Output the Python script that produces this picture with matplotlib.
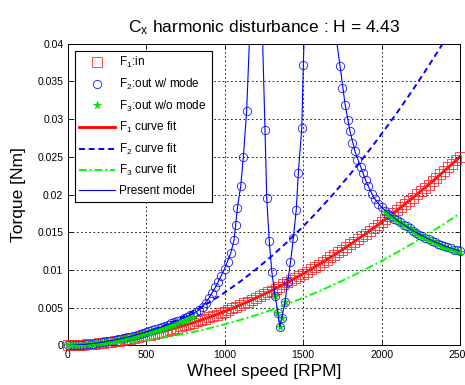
import matplotlib
matplotlib.use('Agg')
import matplotlib.pyplot as plt

plt.rcParams['font.family'] = ['Liberation Sans', 'DejaVu Sans']
plt.rcParams['mathtext.fontset'] = 'custom'
plt.rcParams['mathtext.rm'] = 'Liberation Sans'
plt.rcParams['mathtext.it'] = 'Liberation Sans:italic'

# F1 : in  (красные квадраты), шаг 25 об/мин
f1_rpm = list(range(0, 2501, 25))
f1_in = [0.0, 0.00002, 0.00005, 0.00008, 0.00012, 0.00016, 0.00021, 0.00026, 0.00031, 0.00037,
         0.00044, 0.00051, 0.00058, 0.00066, 0.00074, 0.00083, 0.00092, 0.00102, 0.00112, 0.00122,
         0.00133, 0.00145, 0.00157, 0.00169, 0.00182, 0.00195, 0.00209, 0.00223, 0.00238, 0.00253,
         0.00269, 0.00285, 0.00301, 0.00318, 0.00336, 0.00354, 0.00372, 0.00391, 0.00410, 0.00430,
         0.00450, 0.00471, 0.00492, 0.00513, 0.00535, 0.00558, 0.00581, 0.00604, 0.00628, 0.00652,
         0.00677, 0.00702, 0.00728, 0.00754, 0.00781, 0.00808, 0.00835, 0.00863, 0.00892, 0.00921,
         0.00950, 0.00980, 0.01010, 0.01041, 0.01072, 0.01104, 0.01136, 0.01168, 0.01201, 0.01235,
         0.01269, 0.01303, 0.01338, 0.01373, 0.01409, 0.01445, 0.01482, 0.01519, 0.01557, 0.01595,
         0.01633, 0.01672, 0.01712, 0.01752, 0.01792, 0.01833, 0.01874, 0.01916, 0.01958, 0.02001,
         0.02044, 0.02087, 0.02131, 0.02176, 0.02221, 0.02266, 0.02312, 0.02358, 0.02405, 0.02452,
         0.02500]

# F2 : out w/ mode (синие кружки)
f2_rpm = list(range(0, 1041, 20)) + [
    1061, 1073, 1082, 1103, 1120, 1141,
    1258, 1269, 1285, 1301, 1322, 1340, 1352, 1364, 1385, 1402, 1420, 1438, 1457, 1470, 1492, 1502,
    1736, 1750, 1768, 1785, 1799, 1814, 1831, 1846, 1867, 1884, 1899, 1916] + list(range(1940, 2501, 20))
f2_out = [0.0, 0.00002, 0.00004, 0.00006, 0.00009, 0.00013, 0.00017, 0.00021, 0.00026, 0.00031,
          0.00037, 0.00043, 0.00050, 0.00057, 0.00065, 0.00073, 0.00081, 0.00090, 0.00099, 0.00109,
          0.00119, 0.00130, 0.00141, 0.00153, 0.00165, 0.00177, 0.00190, 0.00204, 0.00217, 0.00232,
          0.00246, 0.00262, 0.00277, 0.00293, 0.00310, 0.00327, 0.00344, 0.00362, 0.00381, 0.00400,
          0.00419, 0.00445, 0.00475, 0.00512, 0.00560, 0.00625, 0.00695, 0.00770, 0.00840, 0.00920,
          0.01015, 0.01110, 0.01225,
          0.0140, 0.0160, 0.0182, 0.0211, 0.0250, 0.0311,
          0.0285, 0.0195, 0.0138, 0.0098, 0.0066, 0.0043, 0.0025, 0.0036, 0.0057, 0.0084, 0.0110,
          0.0142, 0.0180, 0.0228, 0.0288, 0.0372,
          0.0370, 0.0341, 0.0319, 0.0299, 0.0284, 0.0268, 0.0257, 0.0246, 0.0237, 0.0228, 0.0219,
          0.0211,
          0.0201, 0.0194, 0.0188, 0.0183, 0.0178, 0.0174, 0.0171, 0.0168, 0.0166, 0.0163,
          0.0160, 0.0158, 0.0155, 0.0152, 0.0149, 0.0147, 0.0145, 0.0143, 0.0141, 0.0139,
          0.0137, 0.0135, 0.0133, 0.0132, 0.0130, 0.0129, 0.0127, 0.0126, 0.0125]

# F3 : out w/o mode (зелёные звёздочки)
f3_rpm = list(range(0, 801, 20)) + [1322, 1336, 1354, 1364, 1385] + list(range(2020, 2501, 20))
f3_out = [0.0, 0.00002, 0.00003, 0.00005, 0.00008, 0.00011, 0.00015, 0.00019, 0.00023, 0.00028,
          0.00033, 0.00039, 0.00045, 0.00051, 0.00058, 0.00065, 0.00073, 0.00081, 0.00089, 0.00098,
          0.00107, 0.00117, 0.00127, 0.00138, 0.00148, 0.00159, 0.00171, 0.00183, 0.00195, 0.00208,
          0.00221, 0.00235, 0.00249, 0.00263, 0.00278, 0.00294, 0.00310, 0.00326, 0.00342, 0.00360,
          0.00377,
          0.0065, 0.0043, 0.0025, 0.0036, 0.0057,
          0.0177, 0.0173, 0.0170, 0.0167, 0.0165, 0.0162, 0.0159, 0.0157, 0.0154, 0.0151,
          0.0148, 0.0146, 0.0144, 0.0142, 0.0140, 0.0138, 0.0136, 0.0134, 0.0132, 0.0131,
          0.0129, 0.0128, 0.0126, 0.0125, 0.0124]

# аппроксимации (шаг 100 об/мин)
fit_rpm = list(range(0, 2501, 100))
f1_fit = [0.0, 0.00012, 0.00031, 0.00058, 0.00092, 0.00133, 0.00182, 0.00238, 0.00301, 0.00372,
          0.00450, 0.00535, 0.00628, 0.00728, 0.00835, 0.00950, 0.01072, 0.01201, 0.01338, 0.01482,
          0.01633, 0.01792, 0.01958, 0.02131, 0.02312, 0.02500]
f2_fit = [0.0, 0.00007, 0.00028, 0.00063, 0.00112, 0.00175, 0.00252, 0.00343, 0.00448, 0.00567,
          0.00700, 0.00847, 0.01008, 0.01183, 0.01372, 0.01575, 0.01792, 0.02023, 0.02268, 0.02527,
          0.02800, 0.03087, 0.03388, 0.03703, 0.04032, 0.04375]
f3_fit = [0.0, 0.00003, 0.00011, 0.00025, 0.00045, 0.00070, 0.00101, 0.00137, 0.00179, 0.00227,
          0.00280, 0.00339, 0.00403, 0.00473, 0.00549, 0.00630, 0.00717, 0.00809, 0.00907, 0.01011,
          0.01120, 0.01235, 0.01355, 0.01481, 0.01613, 0.01750]

# Present model (резонансы уходят за верх графика)
model_rpm = [0, 100, 200, 300, 400, 500, 600, 700, 800, 850, 900, 950, 1000, 1040, 1061, 1082,
             1103, 1120, 1141, 1158, 1175, 1228, 1243, 1258, 1269, 1285, 1301, 1322, 1340, 1352,
             1364, 1385, 1402, 1420, 1438, 1457, 1470, 1492, 1502, 1506, 1520, 1700, 1716, 1736,
             1768, 1799, 1831, 1867, 1900, 1950, 2000, 2100, 2200, 2300, 2400, 2500]
model_val = [0.0, 0.00013, 0.00037, 0.00073, 0.00119, 0.00177, 0.00246, 0.00327, 0.00419, 0.0049,
             0.00625, 0.0080, 0.01015, 0.01225, 0.0140, 0.0182, 0.0211, 0.0250, 0.0311, 0.0400,
             0.0700, 0.0700, 0.0400, 0.0285, 0.0195, 0.0138, 0.0098, 0.0066, 0.0043, 0.0025,
             0.0036, 0.0057, 0.0084, 0.0110, 0.0142, 0.0180, 0.0228, 0.0288, 0.0372, 0.0400,
             0.0700, 0.0700, 0.0400, 0.0370, 0.0319, 0.0284, 0.0257, 0.0237, 0.0218, 0.0196,
             0.0183, 0.0166, 0.0152, 0.0141, 0.0132, 0.0125]

x_ticks = [0, 500, 1000, 1500, 2000, 2500]
y_ticks = [0, 0.005, 0.01, 0.015, 0.02, 0.025, 0.03, 0.035, 0.04]
y_tick_labels = ['0', '0.005', '0.01', '0.015', '0.02', '0.025', '0.03', '0.035', '0.04']

fig = plt.figure(figsize=(4.65, 3.85), dpi=100)
ax = fig.add_axes([0.1452, 0.1026, 0.8441, 0.7844])

ax.plot(f1_rpm, f1_in, 's', color='#ff2a2a', mfc='none', ms=7, mew=0.6,
        label='F$_1$:in', clip_on=False, zorder=3)
ax.plot(f2_rpm, f2_out, 'o', color='#1a1aff', mfc='none', ms=6, mew=0.6,
        label='F$_2$:out w/ mode', clip_on=False, zorder=4)
ax.plot(f3_rpm, f3_out, '*', color='#00dd00', ms=5.5, mew=0.6,
        label='F$_3$:out w/o mode', clip_on=False, zorder=5)
ax.plot(fit_rpm, f1_fit, '-', color='#ff0000', lw=2, label='F$_1$ curve fit', zorder=2)
ax.plot(fit_rpm, f2_fit, '--', color='#0000ff', lw=1.4, dashes=(3, 2),
        label='F$_2$ curve fit', zorder=4)
ax.plot(fit_rpm, f3_fit, '-.', color='#00ff00', lw=1.4, dashes=(4, 1.5, 1, 1.5),
        label='F$_3$ curve fit', zorder=4)
ax.plot(model_rpm, model_val, '-', color='#0000ff', lw=0.8, label='Present model', zorder=5)

ax.set_xlim(0, 2500)
ax.set_ylim(0, 0.04)
ax.set_xticks(x_ticks)
ax.set_yticks(y_ticks)
ax.set_yticklabels(y_tick_labels)
ax.tick_params(direction='in', top=True, right=True, length=3.5, width=0.6,
               labelsize=7.5, pad=3)
for s in ax.spines.values():
    s.set_linewidth(0.7)
ax.grid(True, color='k', linestyle=(0, (2, 3)), linewidth=0.6)

ax.set_title(r'C$_\mathrm{x}$ harmonic disturbance : H = 4.43', fontsize=12.5, pad=8)
ax.set_xlabel('Wheel speed [RPM]', fontsize=12.5, labelpad=3)
ax.set_ylabel('Torque [Nm]', fontsize=12.5, labelpad=8)

leg = ax.legend(loc='upper left', fontsize=8.5, frameon=True, fancybox=False,
                edgecolor='k', framealpha=1, borderaxespad=0.6, handlelength=3.0,
                handletextpad=0.4, labelspacing=0.55, borderpad=0.4)
leg.get_frame().set_linewidth(0.8)

fig.savefig('out.png', dpi=100)
